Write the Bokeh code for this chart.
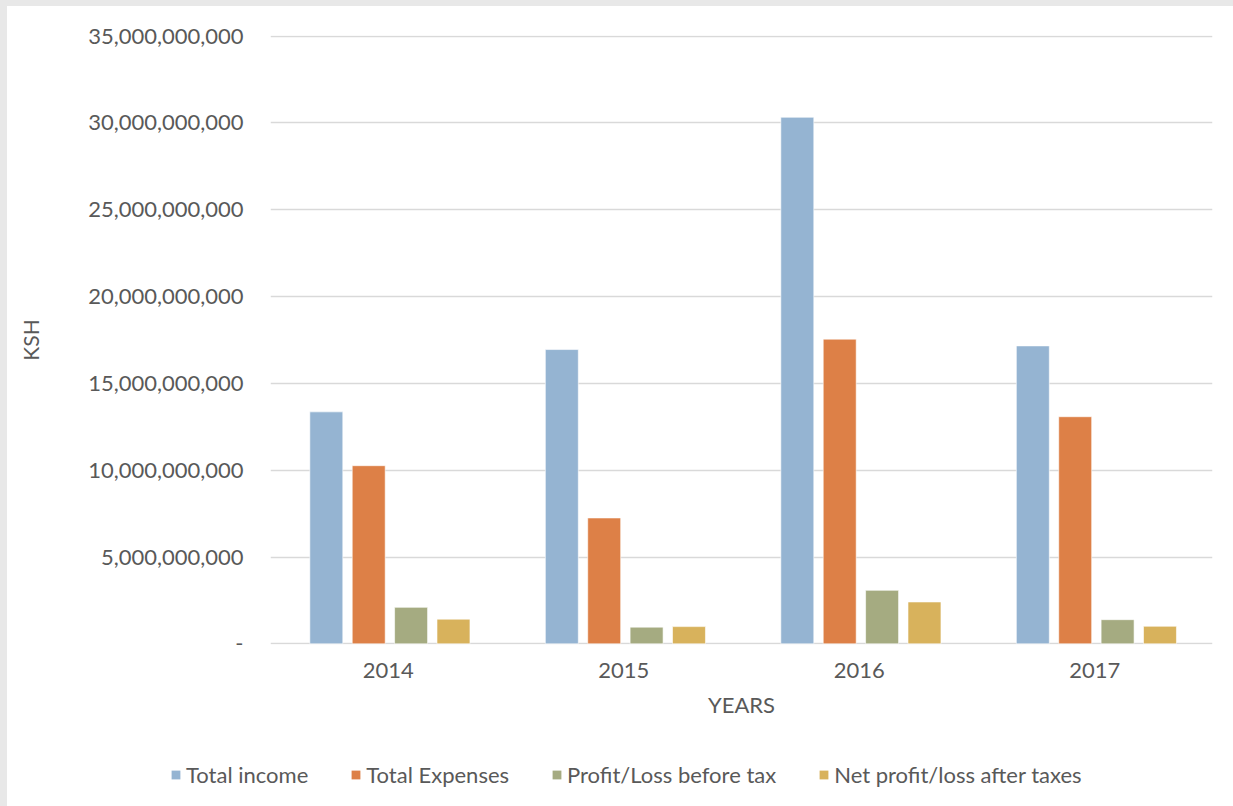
from bokeh.plotting import figure
from bokeh.models import (ColumnDataSource, FactorRange, FixedTicker, Legend, LegendItem,
                          NumeralTickFormatter, Range1d)
from bokeh.transform import dodge
from bokeh.layouts import column
from bokeh.embed import file_html
from bokeh.resources import INLINE

years = ["2014", "2015", "2016", "2017"]
series_names = ["Total income", "Total Expenses", "Profit/Loss before tax", "Net profit/loss after taxes"]
total_income = [13.36e9, 16.95e9, 30.33e9, 17.16e9]
total_expenses = [10.26e9, 7.25e9, 17.55e9, 13.08e9]
profit_before_tax = [2.10e9, 0.96e9, 3.08e9, 1.39e9]
net_after_tax = [1.42e9, 0.99e9, 2.41e9, 1.01e9]
y_ticks = [0, 5e9, 10e9, 15e9, 20e9, 25e9, 30e9, 35e9]

colors = ["#95b4d2", "#dd8047", "#a5ab81", "#d8b25c"]
text_color = "#595959"
FONT = "Lato"

source = ColumnDataSource(dict(
    years=years,
    s0=total_income,
    s1=total_expenses,
    s2=profit_before_tax,
    s3=net_after_tax,
))
keys = ["s0", "s1", "s2", "s3"]

p = figure(
    x_range=FactorRange(*years),
    y_range=Range1d(-0.04e9, 35.04e9),
    width=1226, height=740,
    output_backend="svg",
    toolbar_location=None,
    min_border_left=263, min_border_right=21,
    min_border_top=29, min_border_bottom=102,
)
p.frame_align = False
p.outline_line_color = None
p.background_fill_color = "white"
p.border_fill_color = "white"

for i, key in enumerate(keys):
    off = (i - 1.5) * 0.18 + 0.007
    p.vbar(x=dodge("years", off, range=p.x_range), top=key, width=0.14,
           source=source, fill_color=colors[i], line_color="white", line_width=0.6)

# grid
p.xgrid.grid_line_color = None
p.ygrid.grid_line_color = "#d9d9d9"
p.ygrid.grid_line_width = 1.5
p.ygrid.ticker = FixedTicker(ticks=y_ticks)

# y axis
yax = p.yaxis[0]
yax.ticker = FixedTicker(ticks=y_ticks)
yax.formatter = NumeralTickFormatter(format="0,0")
yax.major_label_overrides = {0: "-"}
yax.axis_line_color = None
yax.major_tick_line_color = None
yax.minor_tick_line_color = None
yax.major_label_standoff = 21
yax.major_label_text_font = FONT
yax.major_label_text_font_size = "22px"
yax.major_label_text_color = text_color
yax.axis_label = "KSH"
yax.axis_label_text_font = FONT
yax.axis_label_text_font_size = "21px"
yax.axis_label_text_font_style = "normal"
yax.axis_label_text_color = text_color
yax.axis_label_standoff = 42

# x axis
xax = p.xaxis[0]
xax.axis_line_color = None
xax.major_tick_line_color = None
xax.minor_tick_line_color = None
xax.major_label_standoff = 12
xax.major_label_text_font = FONT
xax.major_label_text_font_size = "22px"
xax.major_label_text_color = text_color
xax.axis_label = "YEARS"
xax.axis_label_text_font = FONT
xax.axis_label_text_font_size = "22px"
xax.axis_label_text_font_style = "normal"
xax.axis_label_text_color = text_color
xax.axis_label_standoff = 10

# legend strip: a second figure below the chart whose bars lie far outside its view
lg = figure(
    width=1226, height=60,
    x_range=FactorRange(*years), y_range=Range1d(500e9, 600e9),
    output_backend="svg", toolbar_location=None,
    x_axis_location=None, y_axis_location=None,
    min_border=0,
)
lg.frame_align = False
lg.outline_line_color = None
lg.xgrid.grid_line_color = None
lg.ygrid.grid_line_color = None
lg.background_fill_color = "white"
lg.border_fill_color = "white"

legend_renderers = []
for i, key in enumerate(keys):
    r = lg.vbar(x="years", top=key, width=0.14, source=source,
                fill_color=colors[i], line_color=None)
    legend_renderers.append(r)

legend = Legend(
    items=[LegendItem(label=n, renderers=[r]) for n, r in zip(series_names, legend_renderers)],
    orientation="horizontal",
    location=(163, 18),
    border_line_color=None,
    background_fill_alpha=0,
    margin=0, padding=0,
    spacing=42,
    glyph_width=11, glyph_height=11,
    label_standoff=5,
    label_text_font=FONT,
    label_text_font_size="22px",
    label_text_color=text_color,
    label_height=26,
)
lg.add_layout(legend, "center")

layout = column(p, lg, spacing=0, styles={
    "background-color": "white",
    "border-top": "6px solid #e8e8e8",
    "border-left": "7px solid #e8e8e8",
})
open("out.html", "w").write(file_html(layout, INLINE))
